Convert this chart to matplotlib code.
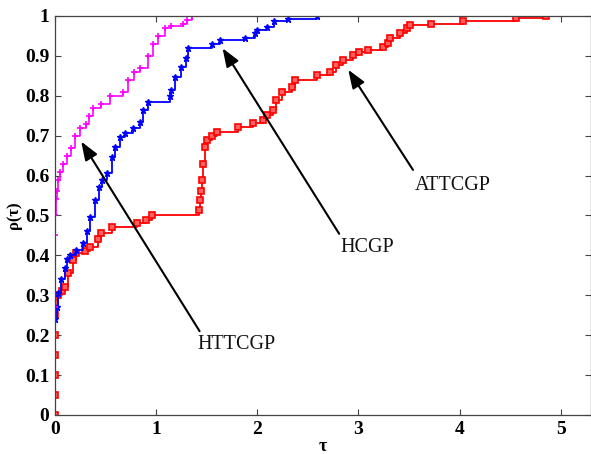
import matplotlib
matplotlib.use("Agg")
import matplotlib.pyplot as plt

# performance profile data
httcgp_x = [0, 0, 0.005, 0.01, 0.017, 0.03, 0.05, 0.08, 0.12, 0.16, 0.2, 0.25, 0.31, 0.34,
            0.38, 0.46, 0.54, 0.67, 0.72, 0.78, 0.84, 0.92, 0.97, 1.02, 1.09, 1.15, 1.27, 1.31, 1.35]
httcgp_y = [0.27, 0.45, 0.5, 0.54, 0.56, 0.59, 0.61, 0.63, 0.65, 0.67, 0.70, 0.72, 0.73, 0.75,
            0.77, 0.78, 0.80, 0.81, 0.84, 0.86, 0.87, 0.90, 0.93, 0.95, 0.97, 0.975, 0.98, 0.99, 1.0]

hcgp_x = [0, 0.017, 0.03, 0.06, 0.1, 0.12, 0.15, 0.21, 0.28, 0.32, 0.35, 0.395, 0.44, 0.47,
          0.51, 0.56, 0.59, 0.64, 0.69, 0.77, 0.84, 0.87, 0.92, 1.14, 1.15, 1.19, 1.25, 1.3,
          1.32, 1.55, 1.63, 1.88, 1.98, 2.0, 2.1, 2.17, 2.3, 2.59]
hcgp_y = [0.24, 0.27, 0.305, 0.34, 0.368, 0.39, 0.40, 0.413, 0.43, 0.46, 0.497, 0.539, 0.572, 0.59,
          0.606, 0.647, 0.672, 0.697, 0.706, 0.718, 0.735, 0.764, 0.785, 0.80, 0.815, 0.848, 0.873, 0.894,
          0.919, 0.93, 0.94, 0.945, 0.956, 0.965, 0.973, 0.986, 0.992, 1.0]

attcgp_x = [0, 0, 0, 0, 0, 0, 0, 0.03, 0.07, 0.1, 0.13, 0.18, 0.21, 0.3, 0.35, 0.43, 0.46, 0.56,
            0.81, 0.9, 0.955, 1.42, 1.43, 1.44, 1.45, 1.46, 1.48, 1.5, 1.55, 1.6, 1.81, 1.96, 2.06,
            2.1, 2.16, 2.19, 2.24, 2.34, 2.37, 2.59, 2.72, 2.78, 2.85, 2.95, 3.01, 3.1, 3.24, 3.29,
            3.31, 3.41, 3.48, 3.51, 3.72, 4.03, 4.56, 4.86]
attcgp_y = [0.0, 0.05, 0.1, 0.15, 0.2, 0.25, 0.28, 0.30, 0.31, 0.32, 0.355, 0.388, 0.405, 0.41,
            0.42, 0.44, 0.455, 0.472, 0.482, 0.488, 0.501, 0.514, 0.539, 0.56, 0.589, 0.63, 0.672,
            0.689, 0.70, 0.71, 0.722, 0.731, 0.739, 0.752, 0.764, 0.789, 0.81, 0.823, 0.84, 0.852,
            0.86, 0.877, 0.89, 0.902, 0.91, 0.915, 0.923, 0.932, 0.944, 0.956, 0.969, 0.977, 0.98,
            0.988, 0.994, 1.0]

# label, arrow head, arrow tail / text corner
labels = ["HTTCGP", "HCGP", "ATTCGP"]
heads = [(0.26, 0.685), (1.657, 0.919), (2.90, 0.865)]
tails = [(1.43, 0.21), (2.81, 0.454), (3.54, 0.614)]
text_pos = [(1.41, 0.20), (2.82, 0.444), (3.56, 0.60)]

serif = ["Liberation Serif", "DejaVu Serif"]

fig = plt.figure(figsize=(5.91, 4.54), dpi=100)
ax = fig.add_axes([0.093, 0.086, 0.907, 0.879])

ax.step(attcgp_x, attcgp_y, where="post", color="red", lw=1.3, marker="s",
        ms=4.5, mfc="#ff6060", mec="red", mew=1.2)
ax.step(hcgp_x, hcgp_y, where="post", color="blue", lw=1.3, marker="*",
        ms=5, mec="blue", mfc="blue")
ax.step(httcgp_x, httcgp_y, where="post", color="magenta", lw=1.2, marker="+",
        ms=4, mec="magenta", mew=1.2)

for lab, h, t, p in zip(labels, heads, tails, text_pos):
    ax.annotate("", xy=h, xytext=t,
                arrowprops=dict(arrowstyle="-|>,head_length=0.8,head_width=0.3",
                                color="black", lw=1.5, mutation_scale=14,
                                shrinkA=0, shrinkB=0))
    ax.text(p[0], p[1], lab, ha="left", va="top", fontsize=14.5,
            family=serif, color="#111111")

ax.set_xlim(0, 5.3)
ax.set_ylim(0, 1)
ax.set_xticks([0, 1, 2, 3, 4, 5])
ax.set_yticks([0, 0.1, 0.2, 0.3, 0.4, 0.5, 0.6, 0.7, 0.8, 0.9, 1])
ax.set_yticklabels(["0", "0.1", "0.2", "0.3", "0.4", "0.5", "0.6", "0.7", "0.8", "0.9", "1"])
ax.tick_params(direction="in", top=True, right=True, length=4, width=0.8, pad=4,
               colors="#444444", labelcolor="black")
for lbl in ax.get_xticklabels() + ax.get_yticklabels():
    lbl.set_family(serif)
    lbl.set_fontweight("bold")
    lbl.set_fontsize(14)
for s in ax.spines.values():
    s.set_color("#444444")
    s.set_linewidth(0.9)

ax.set_xlabel("τ", family=serif, fontweight="bold", fontsize=13, labelpad=0)
ax.set_ylabel("ρ(τ)", family=serif, fontweight="bold", fontsize=12, labelpad=2)

fig.savefig("out.png", dpi=100)
